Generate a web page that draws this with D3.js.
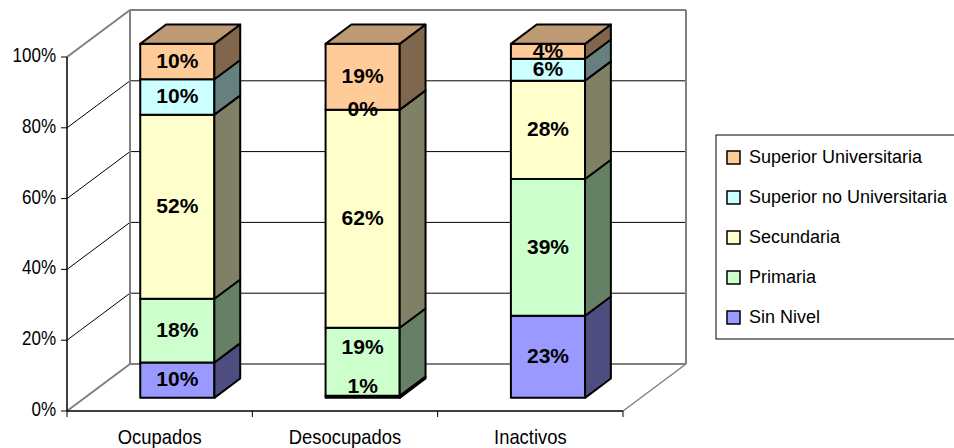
<!DOCTYPE html>
<html>
<head>
<meta charset="utf-8">
<script src="https://cdn.jsdelivr.net/npm/d3@7"></script>
<style>
  body { margin: 0; background: #fff; }
  svg { display: block; }
</style>
</head>
<body>
<svg id="chart"></svg>
<script>
// data
const categories = ["Ocupados", "Desocupados", "Inactivos"];
const levels = ["Sin Nivel", "Primaria", "Secundaria", "Superior no Universitaria", "Superior Universitaria"];
const sinNivel = [10, 0.6, 23.2];
const primaria = [18, 19.2, 38.6];
const secundaria = [52, 61.6, 27.8];
const supNoUniv = [10, 0, 6.2];
const supUniv = [10, 18.6, 4.2];
const yTicks = [0, 20, 40, 60, 80, 100];
const fillColors = ["#9999ff", "#ccffcc", "#ffffcc", "#ccffff", "#ffcc99"];

const width = 954;
const height = 448;

// 3d box: front plane of the axes and the depth of the floor
const plot = { left: 67, right: 623, bottom: 411, top: 57 };
const depth = { dx: 63, dy: -47 };
const barFront = 0.28, barBack = 0.69;

const svg = d3.select("svg#chart")
  .attr("width", width)
  .attr("height", height)
  .attr("viewBox", "0 0 " + width + " " + height);

const yScale = d3.scaleLinear().domain([0, 100]).range([plot.bottom, plot.top]);
const xScale = d3.scaleBand()
  .domain(categories)
  .range([plot.left, plot.right])
  .paddingInner(0.6)
  .paddingOuter(0.3);

function shade(c, k) {
  const r = d3.rgb(c);
  return d3.rgb(r.r * k, r.g * k, r.b * k).formatHex();
}

// walls and gridlines
const walls = svg.append("g").attr("id", "walls");
const bx = plot.left + depth.dx;

yTicks.forEach(function(t) {
  const yf = yScale(t);
  const edge = (t === 0 || t === 100);
  // side wall diagonal
  walls.append("line")
    .attr("x1", plot.left).attr("y1", yf)
    .attr("x2", bx).attr("y2", yf + depth.dy)
    .style("stroke", edge ? "#808080" : "#000")
    .style("stroke-width", edge ? 2 : 1);
  // back wall line
  walls.append("line")
    .attr("x1", bx).attr("y1", yf + depth.dy)
    .attr("x2", plot.right + depth.dx).attr("y2", yf + depth.dy)
    .style("stroke", edge ? "#808080" : "#000")
    .style("stroke-width", edge ? 2 : 1);
});

// back wall verticals
[bx, plot.right + depth.dx].forEach(function(xv) {
  walls.append("line")
    .attr("x1", xv).attr("y1", yScale(0) + depth.dy)
    .attr("x2", xv).attr("y2", yScale(100) + depth.dy)
    .style("stroke", "#808080")
    .style("stroke-width", 2);
});

// floor right edge
walls.append("line")
  .attr("x1", plot.right).attr("y1", plot.bottom)
  .attr("x2", plot.right + depth.dx).attr("y2", plot.bottom + depth.dy)
  .style("stroke", "#808080")
  .style("stroke-width", 1.5);

// front axes
const axes = svg.append("g").attr("id", "axes");
axes.append("line")
  .attr("x1", plot.left).attr("y1", plot.bottom)
  .attr("x2", plot.left).attr("y2", plot.top)
  .style("stroke", "#000").style("stroke-width", 1.5);
axes.append("line")
  .attr("x1", plot.left).attr("y1", plot.bottom)
  .attr("x2", plot.right).attr("y2", plot.bottom)
  .style("stroke", "#000").style("stroke-width", 1.5);

yTicks.forEach(function(t) {
  axes.append("line")
    .attr("x1", plot.left - 6).attr("y1", yScale(t))
    .attr("x2", plot.left).attr("y2", yScale(t))
    .style("stroke", "#000");
  // narrow lettering, as in the original
  axes.append("text")
    .attr("transform", "translate(" + (plot.left - 11) + "," + (yScale(t) - 2) + ") scale(0.85,1)")
    .attr("dy", "0.35em")
    .attr("text-anchor", "end")
    .style("font-family", "'Liberation Sans', Arial, sans-serif")
    .style("font-size", "20px")
    .text(t + "%");
});

// category ticks on floor
const catEdges = [plot.left].concat(categories.map(c => xScale(c) + xScale.step() * 0.7));
catEdges.forEach(function(xv) {
  axes.append("line")
    .attr("x1", xv).attr("y1", plot.bottom)
    .attr("x2", xv).attr("y2", plot.bottom + 6)
    .style("stroke", "#000");
});

categories.forEach(function(c) {
  axes.append("text")
    .attr("transform", "translate(" + (xScale(c) + xScale.bandwidth() / 2) + "," + (height - 4) + ") scale(0.92,1)")
    .attr("text-anchor", "middle")
    .style("font-family", "'Liberation Sans', Arial, sans-serif")
    .style("font-size", "20px")
    .text(c);
});

// stacked 3d bars
const rows = categories.map(function(c, i) {
  return {
    category: c,
    "Sin Nivel": sinNivel[i],
    "Primaria": primaria[i],
    "Secundaria": secundaria[i],
    "Superior no Universitaria": supNoUniv[i],
    "Superior Universitaria": supUniv[i]
  };
});
const stacked = d3.stack().keys(levels)(rows);

const fx = barFront * depth.dx, fy = barFront * depth.dy;
const ddx = (barBack - barFront) * depth.dx, ddy = (barBack - barFront) * depth.dy;
const bw = xScale.bandwidth();

const bars = svg.append("g").attr("id", "bars");
const labels = svg.append("g").attr("id", "labels");

categories.forEach(function(c, ci) {
  const xl = xScale(c) + fx;
  const xr = xl + bw;
  const g = bars.append("g").attr("class", "bar");
  let prevLabel = null;
  stacked.forEach(function(layer, li) {
    const seg = layer[ci];
    const yb = yScale(seg[0]) + fy;
    const yt = yScale(seg[1]) + fy;
    const col = fillColors[li];

    g.append("rect")
      .attr("x", xl).attr("y", yt)
      .attr("width", bw).attr("height", yb - yt)
      .style("fill", col)
      .style("stroke", "#000").style("stroke-width", 2)
      .style("stroke-linejoin", "round");

    g.append("polygon")
      .attr("points", [[xr, yb], [xr + ddx, yb + ddy], [xr + ddx, yt + ddy], [xr, yt]].join(" "))
      .style("fill", shade(col, 0.5))
      .style("stroke", "#000").style("stroke-width", 2)
      .style("stroke-linejoin", "round");

    if (li === stacked.length - 1) {
      g.append("polygon")
        .attr("points", [[xl, yt], [xr, yt], [xr + ddx, yt + ddy], [xl + ddx, yt + ddy]].join(" "))
        .style("fill", shade(col, 0.75))
        .style("stroke", "#000").style("stroke-width", 2)
        .style("stroke-linejoin", "round");
    }

    // label, kept above the bar floor when the segment is thinner than the text
    let ly = (yb + yt) / 2;
    let clamped = false;
    if (li === 0 && yb - yt < 20) { ly = yb - 11; clamped = true; }
    if (prevLabel && prevLabel.clamped && ly > prevLabel.y - 39) ly = prevLabel.y - 39;
    prevLabel = { y: ly, clamped: clamped };

    labels.append("text")
      .attr("x", xl + bw / 2)
      .attr("y", ly - 1)
      .attr("dy", "0.35em")
      .attr("text-anchor", "middle")
      .style("font-family", "'Liberation Sans', Arial, sans-serif")
      .style("font-weight", "bold")
      .style("font-size", "21px")
      .text(Math.round(seg[1] - seg[0]) + "%");
  });
});

// legend
const legend = svg.append("g").attr("id", "legend");
legend.append("rect")
  .attr("x", 716).attr("y", 135)
  .attr("width", 260).attr("height", 204)
  .style("fill", "#fff")
  .style("stroke", "#000").style("stroke-width", 1);

const legendItems = levels.slice().reverse();
legendItems.forEach(function(name, i) {
  const cy = 157 + i * 40;
  const li = levels.indexOf(name);
  legend.append("rect")
    .attr("x", 727).attr("y", cy - 6)
    .attr("width", 13).attr("height", 13)
    .style("fill", fillColors[li])
    .style("stroke", "#000").style("stroke-width", 1.5);
  legend.append("text")
    .attr("x", 749).attr("y", cy)
    .attr("dy", "0.35em")
    .style("font-family", "'Liberation Sans', Arial, sans-serif")
    .style("font-size", "18px")
    .text(name);
});
</script>
</body>
</html>
